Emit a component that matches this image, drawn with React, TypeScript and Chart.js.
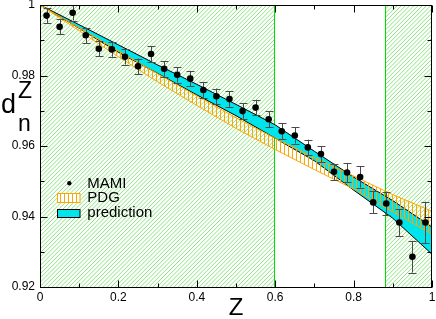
import React, { useEffect, useRef } from "react";
import { Chart, registerables } from "chart.js";

Chart.register(...registerables);

// ---- data ----
const mamiZ = [
  0.0167, 0.05, 0.0833, 0.1167, 0.15, 0.1833, 0.2167, 0.25, 0.2833, 0.3167,
  0.35, 0.3833, 0.4167, 0.45, 0.4833, 0.5167, 0.55, 0.5833, 0.6167, 0.65,
  0.6833, 0.7167, 0.75, 0.7833, 0.8167, 0.85, 0.8833, 0.9167, 0.95, 0.9833,
];
const mamiValues = [
  0.997, 0.9938, 0.9978, 0.9914, 0.9876, 0.9874, 0.9853, 0.9826, 0.9861, 0.9819,
  0.9802, 0.9791, 0.9759, 0.9741, 0.9733, 0.9699, 0.9709, 0.9676, 0.9642, 0.963,
  0.9596, 0.9577, 0.9527, 0.9525, 0.9512, 0.944, 0.9437, 0.9383, 0.9286, 0.9383,
];
const mamiErrors = [
  0.0022, 0.0021, 0.0022, 0.0022, 0.0022, 0.0021, 0.0022, 0.0022, 0.0022, 0.0022,
  0.0022, 0.0022, 0.0022, 0.0022, 0.0022, 0.0022, 0.0022, 0.0022, 0.0022, 0.0023,
  0.0022, 0.0023, 0.0023, 0.0027, 0.003, 0.0031, 0.0033, 0.0038, 0.0045, 0.0059,
];
const bandZ = [0, 0.1, 0.2, 0.3, 0.4, 0.5, 0.6, 0.7, 0.8, 0.9, 1.0];
const pdgUpper = [1.0, 0.9935, 0.987, 0.9805, 0.9742, 0.968, 0.9622, 0.9567, 0.9515, 0.9462, 0.9415];
const pdgLower = [1.0, 0.9927, 0.9853, 0.9782, 0.9715, 0.965, 0.959, 0.9533, 0.9478, 0.9413, 0.935];
const predUpper = [1.0, 0.9944, 0.9887, 0.983, 0.9775, 0.9718, 0.966, 0.9585, 0.9512, 0.9445, 0.937];
const predLower = [1.0, 0.9934, 0.9866, 0.9806, 0.9745, 0.9686, 0.9622, 0.9558, 0.9475, 0.9395, 0.9293];
const shadedRegions = [
  [0, 0.6],
  [0.88, 1.0],
];
const xMajorTicks = [0, 0.2, 0.4, 0.6, 0.8, 1];
const xTickLabels = ["0", "0.2", "0.4", "0.6", "0.8", "1"];
const xMinorTicks = [0.1, 0.3, 0.5, 0.7, 0.9];
const yMajorTicks = [0.92, 0.94, 0.96, 0.98, 1];
const yTickLabels = ["0.92", "0.94", "0.96", "0.98", "1"];
const yMinorTicks = [0.93, 0.95, 0.97, 0.99];
const legendLabels = ["MAMI", "PDG", "prediction"];

const FONT = "'Liberation Sans', Arial, Helvetica, sans-serif";
const ORANGE = "rgb(255,165,0)";
const CYAN = "rgb(0,228,236)";
const GREEN_HATCH = "rgb(140,230,128)";
const GREEN_LINE = "rgb(0,220,0)";

export default function App() {
  const ref = useRef<HTMLCanvasElement>(null);

  useEffect(() => {
    document.body.style.margin = "0";
    const canvas = ref.current!;
    const ctx = canvas.getContext("2d")!;

    const pdgTile = document.createElement("canvas");
    pdgTile.width = 4;
    pdgTile.height = 4;
    const pg = pdgTile.getContext("2d")!;
    pg.fillStyle = ORANGE;
    pg.fillRect(0, 0, 1, 4);
    const pdgPattern = ctx.createPattern(pdgTile, "repeat")!;

    const pts = (xs: number[], ys: number[]) => xs.map((x, i) => ({ x, y: ys[i] }));

    const decor = {
      id: "decor",
      beforeDraw(chart: any) {
        const { ctx: c, chartArea: a, scales } = chart;
        const xs = scales.x;
        const top = Math.round(a.top);
        const bottom = Math.round(a.bottom);
        c.save();
        c.lineWidth = 1;
        c.strokeStyle = GREEN_HATCH;
        for (const [z0, z1] of shadedRegions) {
          const p0 = Math.round(xs.getPixelForValue(z0));
          const p1 = Math.round(xs.getPixelForValue(z1));
          c.save();
          c.beginPath();
          c.rect(p0, top, p1 - p0, bottom - top);
          c.clip();
          c.beginPath();
          const h = bottom - top;
          for (let s = p0 - h - 4; s < p1 + 4; s += 4.2) {
            c.moveTo(s, bottom);
            c.lineTo(s + h, top);
          }
          c.stroke();
          c.restore();
          c.fillStyle = GREEN_LINE;
          c.fillRect(p0, top, 1, h);
          c.fillRect(p1 - 1, top, 1, h);
        }
        c.restore();
      },
      beforeDatasetDraw(chart: any, args: any) {
        if (args.index !== 0) return;
        const { ctx: c, scales } = chart;
        c.save();
        c.strokeStyle = "#4a4a4a";
        c.lineWidth = 1;
        mamiZ.forEach((z, i) => {
          const px = Math.round(scales.x.getPixelForValue(z)) + 0.5;
          const yt = scales.y.getPixelForValue(mamiValues[i] + mamiErrors[i]);
          const yb = scales.y.getPixelForValue(mamiValues[i] - mamiErrors[i]);
          c.beginPath();
          c.moveTo(px, yt);
          c.lineTo(px, yb);
          c.moveTo(px - 4, Math.round(yt) + 0.5);
          c.lineTo(px + 4, Math.round(yt) + 0.5);
          c.moveTo(px - 4, Math.round(yb) + 0.5);
          c.lineTo(px + 4, Math.round(yb) + 0.5);
          c.stroke();
        });
        c.restore();
      },
      afterDatasetsDraw(chart: any) {
        const { ctx: c, chartArea: a, scales } = chart;
        const L = Math.round(a.left) + 0.5;
        const R = Math.round(a.right) - 0.5;
        const T = Math.round(a.top) + 0.5;
        const B = Math.round(a.bottom) + 0.5;
        c.save();
        c.strokeStyle = "#000";
        c.lineWidth = 1;
        c.strokeRect(L, T, R - L, B - T);
        c.beginPath();
        const tickX = (vals: number[], len: number) => {
          for (const v of vals) {
            const p = Math.round(scales.x.getPixelForValue(v)) + 0.5;
            c.moveTo(p, B);
            c.lineTo(p, B - len);
            c.moveTo(p, T);
            c.lineTo(p, T + len);
          }
        };
        const tickY = (vals: number[], len: number) => {
          for (const v of vals) {
            const p = Math.round(scales.y.getPixelForValue(v)) + 0.5;
            c.moveTo(L, p);
            c.lineTo(L + len, p);
            c.moveTo(R, p);
            c.lineTo(R - len, p);
          }
        };
        tickX(xMajorTicks, 7);
        tickX(xMinorTicks, 4);
        tickY(yMajorTicks, 7);
        tickY(yMinorTicks, 4);
        c.stroke();

        // y-axis title d_n^Z
        c.fillStyle = "#000";
        c.textBaseline = "alphabetic";
        c.textAlign = "left";
        c.font = `27px ${FONT}`;
        c.fillText("d", 1, 113);
        c.font = `23px ${FONT}`;
        c.fillText("Z", 18, 98);
        c.fillText("n", 18, 131);

        // legend
        const lx = a.left;
        c.font = `15px ${FONT}`;
        c.beginPath();
        c.arc(lx + 29.3, 183.3, 2.2, 0, Math.PI * 2);
        c.fill();
        c.fillText(legendLabels[0], lx + 47.3, 187.5);
        c.fillStyle = "#fff";
        c.fillRect(lx + 17.5, 193.5, 22.5, 9);
        c.fillStyle = pdgPattern;
        c.fillRect(lx + 17.5, 193.5, 22.5, 9);
        c.strokeStyle = ORANGE;
        c.strokeRect(lx + 17.5, 193.5, 22.5, 9);
        c.fillStyle = "#000";
        c.fillText(legendLabels[1], lx + 47.3, 202);
        c.fillStyle = CYAN;
        c.fillRect(lx + 17.5, 209.5, 22.5, 8);
        c.strokeStyle = "#000";
        c.strokeRect(lx + 17.5, 209.5, 22.5, 8);
        c.fillStyle = "#000";
        c.fillText(legendLabels[2], lx + 47.3, 217);
        c.restore();
      },
    };

    const chart = new Chart(canvas, {
      type: "scatter",
      data: {
        datasets: [
          {
            label: "MAMI",
            data: pts(mamiZ, mamiValues),
            pointRadius: 3.3,
            pointBackgroundColor: "#000",
            pointBorderColor: "#000",
            pointBorderWidth: 0,
            showLine: false,
          },
          {
            label: "PDG upper",
            data: pts(bandZ, pdgUpper),
            showLine: true,
            borderColor: ORANGE,
            backgroundColor: ORANGE,
            borderWidth: 1,
            pointRadius: 0,
            fill: false,
          },
          {
            label: "PDG",
            data: pts(bandZ, pdgLower),
            showLine: true,
            borderColor: ORANGE,
            borderWidth: 1,
            pointRadius: 0,
            backgroundColor: pdgPattern as any,
            fill: { target: 1 },
          },
          {
            label: "prediction upper",
            data: pts(bandZ, predUpper),
            showLine: true,
            borderColor: "#000",
            backgroundColor: "#000",
            borderWidth: 1,
            pointRadius: 0,
            fill: false,
          },
          {
            label: "prediction",
            data: pts(bandZ, predLower),
            showLine: true,
            borderColor: "#000",
            borderWidth: 1,
            pointRadius: 0,
            backgroundColor: CYAN,
            fill: { target: 3 },
          },
        ],
      } as any,
      options: {
        animation: false,
        responsive: false,
        devicePixelRatio: 1,
        layout: { padding: { top: 5, right: 3, left: 0, bottom: 0 } },
        plugins: {
          legend: { display: false },
          tooltip: { enabled: false },
          colors: { enabled: false },
        },
        scales: {
          x: {
            type: "linear",
            min: 0,
            max: 1,
            afterBuildTicks: (s: any) => {
              s.ticks = xMajorTicks.map((v) => ({ value: v }));
            },
            afterFit: (s: any) => {
              s.height = 32;
              s.paddingLeft = 0;
              s.paddingRight = 0;
            },
            grid: { display: false, drawTicks: false },
            border: { display: false },
            ticks: {
              font: { family: FONT, size: 12 },
              color: "#000",
              padding: 3,
              maxRotation: 0,
              autoSkip: false,
              callback: (_v: any, i: number) => xTickLabels[i],
            },
            title: {
              display: true,
              text: "Z",
              color: "#000",
              font: { family: FONT, size: 24 },
              padding: { top: 0, bottom: -4 },
            },
          },
          y: {
            type: "linear",
            min: 0.92,
            max: 1,
            afterBuildTicks: (s: any) => {
              s.ticks = yMajorTicks.map((v) => ({ value: v }));
            },
            afterFit: (s: any) => {
              s.width = 40;
              s.paddingTop = 0;
              s.paddingBottom = 0;
            },
            grid: { display: false, drawTicks: false },
            border: { display: false },
            ticks: {
              font: { family: FONT, size: 12 },
              color: "#000",
              padding: 5,
              autoSkip: false,
              callback: (_v: any, i: number) => yTickLabels[i],
            },
          },
        },
      } as any,
      plugins: [decor],
    });
    return () => chart.destroy();
  }, []);

  return (
    <div style={{ width: 436, height: 319 }}>
      <canvas ref={ref} width={436} height={319} style={{ display: "block" }} />
    </div>
  );
}
